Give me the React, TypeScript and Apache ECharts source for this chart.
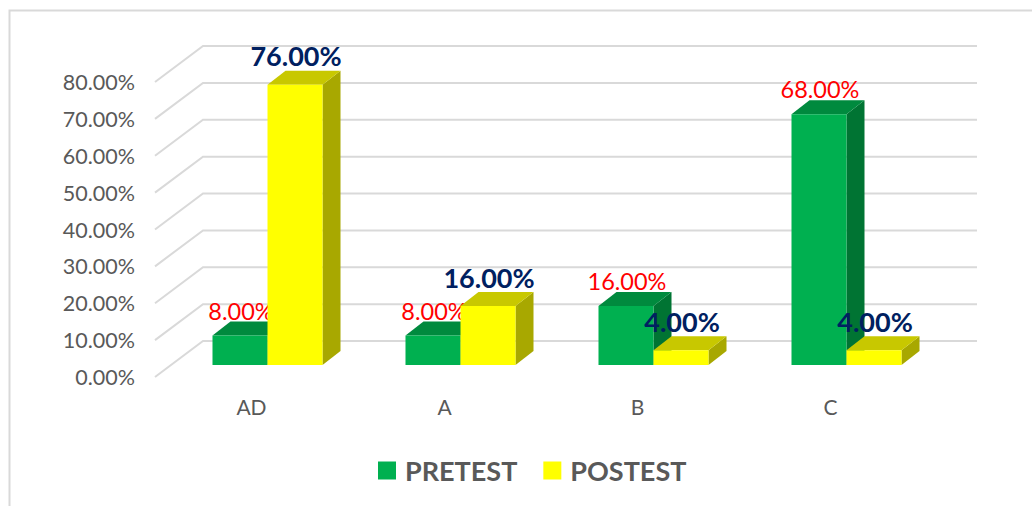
import React, { useEffect, useRef } from "react";
import * as echarts from "echarts";

const CATEGORIES = ["AD", "A", "B", "C"];
const PRETEST = [8, 8, 16, 68];
const POSTEST = [76, 16, 4, 4];
const Y_TICKS = [0, 10, 20, 30, 40, 50, 60, 70, 80];
const SERIES_NAMES = ["PRETEST", "POSTEST"];

// geometry of the pseudo-3D look
const FLOOR_DX = 48;
const FLOOR_DY = 36;
const BAR_SHIFT_X = 16;
const BAR_SHIFT_Y = 12;
const BAR_DX = 18;
const BAR_DY = 14;
const BAR_RATIO = 0.285;

const FONT = "Lato, 'Open Sans', sans-serif";

function makeBar(side: number, front: string, topC: string, sideC: string, labelColor: string, bold: boolean, fontSize: number, gap: number) {
  return (params: any, api: any) => {
    const cat = api.value(0);
    const val = api.value(1);
    const base = api.coord([cat, 0]);
    const top = api.coord([cat, val]);
    const band = api.size([1, 0])[0];
    const w = band * BAR_RATIO;
    const x0 = base[0] + BAR_SHIFT_X - (side === 0 ? w : 0);
    const x1 = x0 + w;
    const yb = base[1] - BAR_SHIFT_Y;
    const yt = top[1] - BAR_SHIFT_Y;
    return {
      type: "group",
      children: [
        {
          type: "polygon",
          shape: { points: [[x1, yt], [x1 + BAR_DX, yt - BAR_DY], [x1 + BAR_DX, yb - BAR_DY], [x1, yb]] },
          style: { fill: sideC },
        },
        {
          type: "polygon",
          shape: { points: [[x0, yt], [x1, yt], [x1 + BAR_DX, yt - BAR_DY], [x0 + BAR_DX, yt - BAR_DY]] },
          style: { fill: topC },
        },
        {
          type: "rect",
          shape: { x: x0, y: yt, width: w, height: yb - yt },
          style: { fill: front },
        },
        {
          type: "text",
          z2: 10,
          style: {
            text: val.toFixed(2) + "%",
            x: (x0 + x1) / 2 + 1,
            y: yt - BAR_DY - gap,
            align: "center",
            verticalAlign: "middle",
            fill: labelColor,
            fontFamily: FONT,
            fontWeight: bold ? "bold" : "normal",
            fontSize,
          },
        },
      ],
    };
  };
}

export default function App() {
  const ref = useRef<HTMLDivElement>(null);
  useEffect(() => {
    if (!ref.current) return;
    const chart = echarts.init(ref.current, null, { renderer: "svg" });
    const option: any = {
      animation: false,
      backgroundColor: "#ffffff",
      graphic: [
        {
          type: "rect",
          shape: { x: 9.5, y: 10.5, width: 1040, height: 520 },
          style: { fill: "none", stroke: "#d9d9d9", lineWidth: 2 },
          silent: true,
        },
      ],
      grid: { left: 155, right: 105, top: 82, bottom: 129 },
      legend: {
        left: 373,
        top: 452,
        itemWidth: 18,
        itemHeight: 18,
        itemGap: 26,
        icon: "rect",
        data: SERIES_NAMES,
        textStyle: { fontFamily: FONT, fontWeight: "bold", fontSize: 27, color: "#595959", padding: [0, 0, 0, 4] },
      },
      xAxis: {
        type: "category",
        data: CATEGORIES,
        axisLine: { show: false },
        axisTick: { show: false },
        axisLabel: { margin: 19, fontFamily: FONT, fontSize: 21, color: "#595959" },
      },
      yAxis: {
        type: "value",
        min: 0,
        max: 80,
        interval: 10,
        splitLine: { show: false },
        axisLine: { show: false },
        axisTick: { show: false },
        axisLabel: {
          margin: 20,
          fontFamily: FONT,
          fontSize: 21.5,
          color: "#595959",
          padding: [8, 0, 0, 0],
          formatter: (v: number) => v.toFixed(2) + "%",
        },
      },
      series: [
        {
          type: "custom",
          name: "grid",
          silent: true,
          z: 1,
          data: Y_TICKS.map((v) => [0, v]),
          renderItem: (params: any, api: any) => {
            const y = api.coord([0, api.value(1)])[1];
            const cs = params.coordSys;
            return {
              type: "polyline",
              shape: {
                points: [
                  [cs.x, y],
                  [cs.x + FLOOR_DX, y - FLOOR_DY],
                  [cs.x + cs.width + FLOOR_DX + 2, y - FLOOR_DY],
                ],
              },
              style: { fill: "none", stroke: "#d9d9d9", lineWidth: 2 },
            };
          },
        },
        {
          type: "custom",
          name: SERIES_NAMES[0],
          z: 2,
          itemStyle: { color: "#00B050" },
          data: PRETEST.map((v, i) => [i, v]),
          renderItem: makeBar(0, "#00B050", "#008A3E", "#007433", "#FF0000", false, 23.5, 11),
        },
        {
          type: "custom",
          name: SERIES_NAMES[1],
          z: 3,
          itemStyle: { color: "#FFFF00" },
          data: POSTEST.map((v, i) => [i, v]),
          renderItem: makeBar(1, "#FFFF00", "#C8C800", "#A8A800", "#002060", true, 27, 15),
        },
      ],
    };
    chart.setOption(option);
    return () => chart.dispose();
  }, []);
  return <div ref={ref} style={{ position: "absolute", left: 0, top: 0, width: 1032, height: 506 }} />;
}
